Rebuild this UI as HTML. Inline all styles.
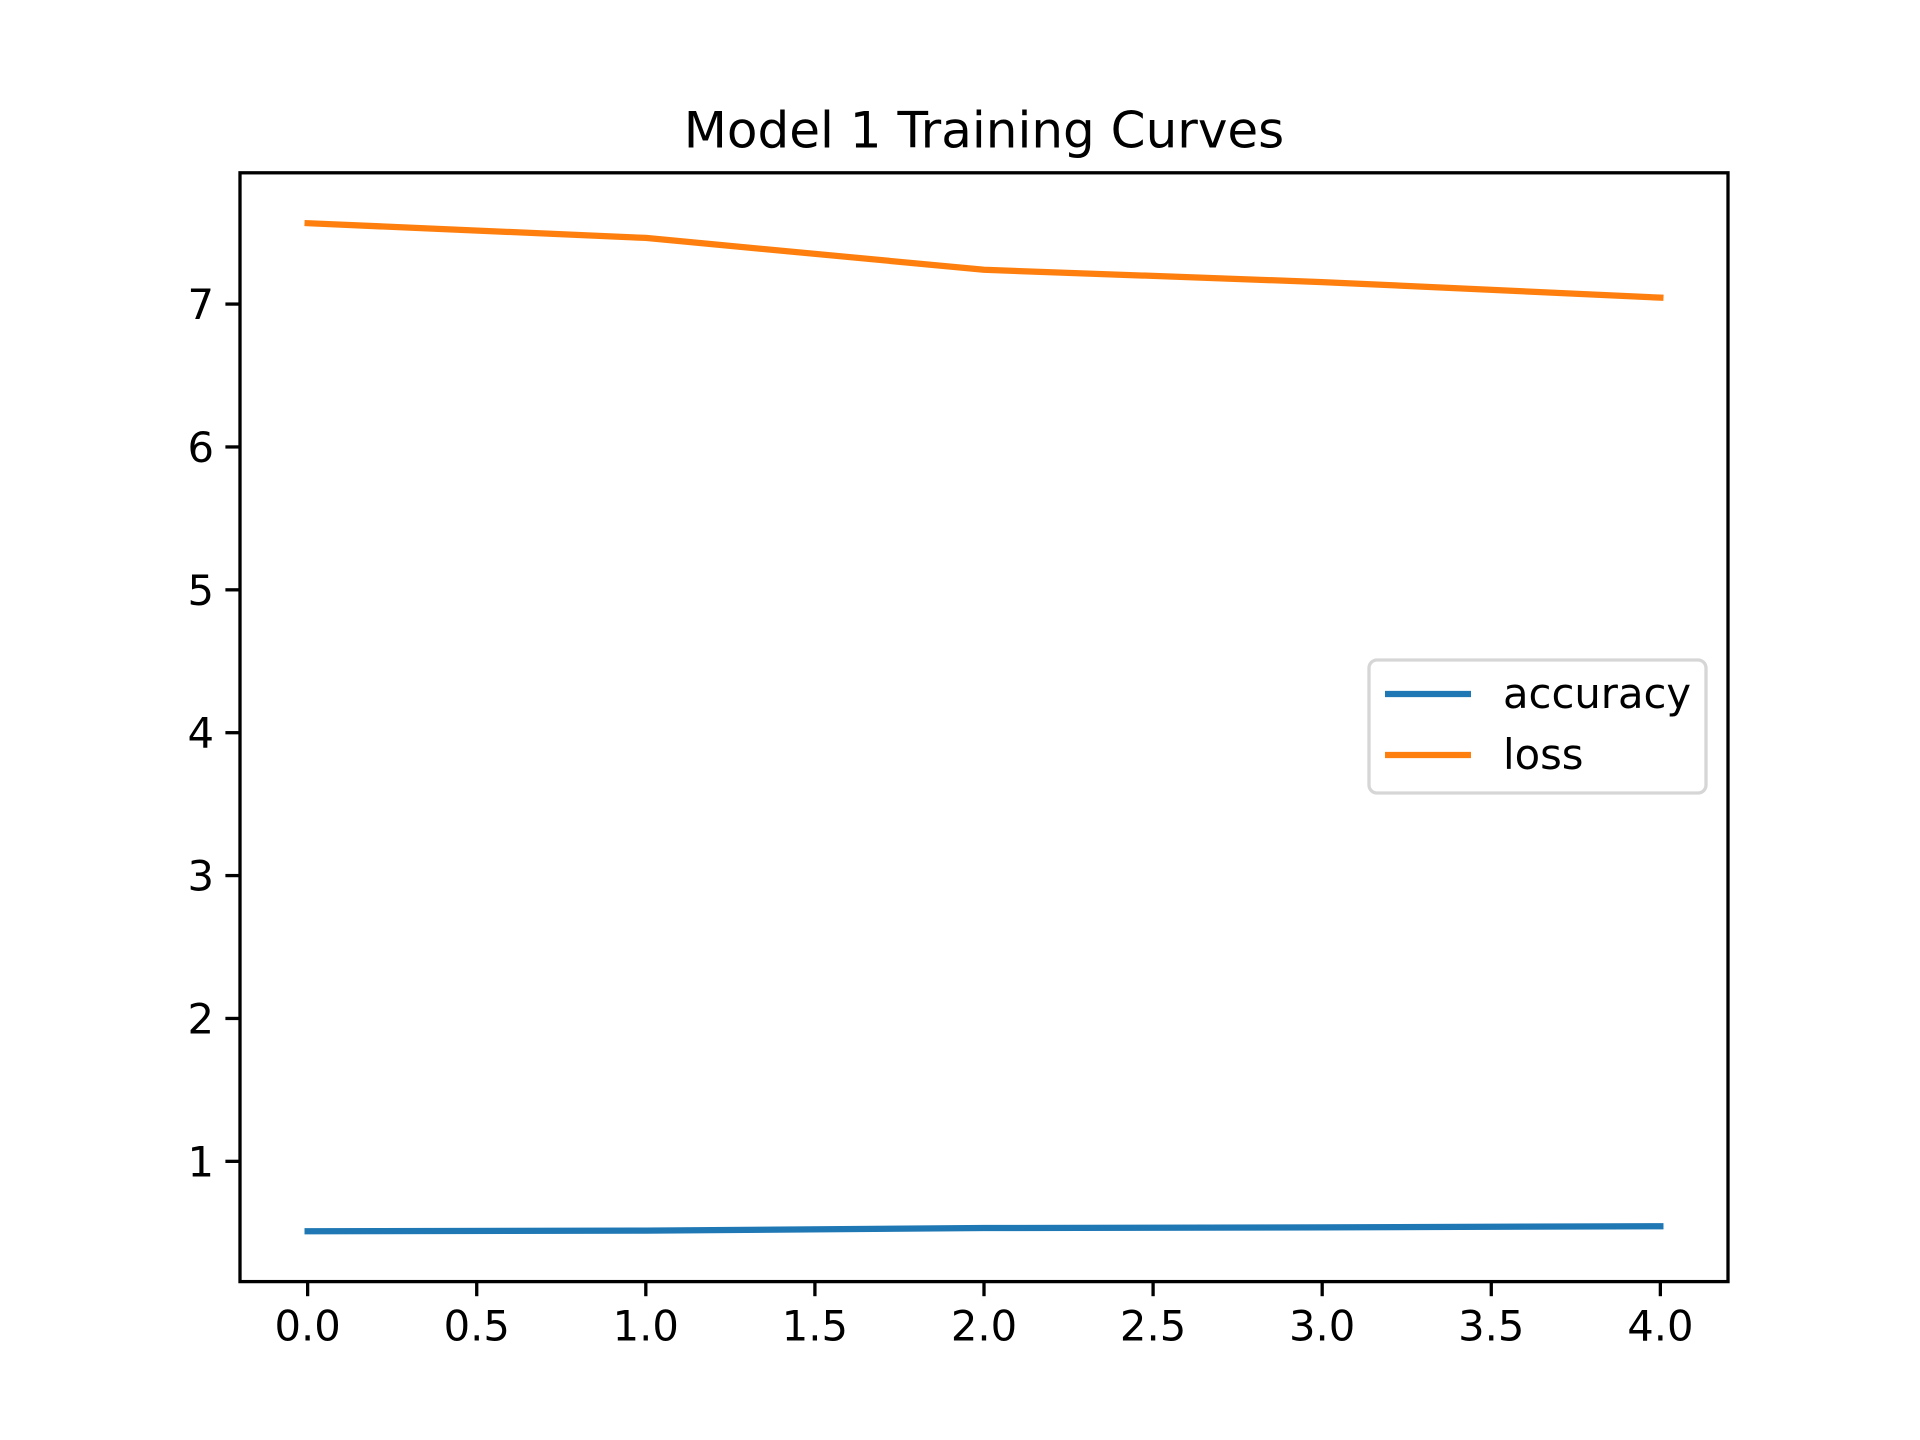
<!DOCTYPE html>
<html><head><meta charset="utf-8"><style>
html,body{margin:0;padding:0;background:#fff;}
svg{display:block;font-family:"DejaVu Sans","Liberation Sans",sans-serif;}
</style></head><body>
<svg id="chart" width="1920" height="1440" viewBox="0 0 1920 1440">
<rect width="1920" height="1440" fill="#fff"/>
<text x="984" y="147.5" font-size="50" text-anchor="middle" fill="#000">Model 1 Training Curves</text>
<g id="plot"></g>
</svg>
<script>
const epochs = [0, 1, 2, 3, 4];
const accuracy = [0.511, 0.515, 0.533, 0.538, 0.546];
const loss = [7.566, 7.463, 7.240, 7.154, 7.045];
const xTicks = [0, 0.5, 1, 1.5, 2, 2.5, 3, 3.5, 4];
const xTickLabels = ["0.0","0.5","1.0","1.5","2.0","2.5","3.0","3.5","4.0"];
const yTicks = [1, 2, 3, 4, 5, 6, 7];
const yTickLabels = ["1","2","3","4","5","6","7"];

const L=240,R=1728,T=172.8,B=1281.6;
const allY=accuracy.concat(loss);
const ymin=Math.min(...allY),ymax=Math.max(...allY),yr=ymax-ymin;
const y0=ymin-0.05*yr,y1=ymax+0.05*yr;
const xmin=Math.min(...epochs),xmax=Math.max(...epochs),xr=xmax-xmin;
const x0=xmin-0.05*xr,x1=xmax+0.05*xr;
const sx=v=>L+(v-x0)/(x1-x0)*(R-L);
const sy=v=>B-(v-y0)/(y1-y0)*(B-T);
const NS="http://www.w3.org/2000/svg";
const g=document.getElementById('plot');
function mk(tag,attrs,parent){const e=document.createElementNS(NS,tag);for(const k in attrs)e.setAttribute(k,attrs[k]);(parent||g).appendChild(e);return e;}

function series(vals,color,name){
  const p=mk('polyline',{points:epochs.map((x,i)=>sx(x)+','+sy(vals[i])).join(' '),fill:'none',stroke:color,'stroke-width':6.25,'stroke-linecap':'square','stroke-linejoin':'round'});
  
  
}
series(accuracy,'#1f77b4','accuracy-line');
series(loss,'#ff7f0e','loss-line');

xTicks.forEach((v,i)=>{
  const t=mk('line',{x1:sx(v),x2:sx(v),y1:B,y2:B+14.6,stroke:'#000','stroke-width':3.3});
  
  
  const l=mk('text',{x:sx(v),y:B+59,'font-size':41.7,'text-anchor':'middle',fill:'#000'});
  l.textContent=xTickLabels[i];
  
  
});
yTicks.forEach((v,i)=>{
  const t=mk('line',{x1:L-14.6,x2:L,y1:sy(v),y2:sy(v),stroke:'#000','stroke-width':3.3});
  
  
  const l=mk('text',{x:L-26,y:sy(v)+15,'font-size':41.7,'text-anchor':'end',fill:'#000'});
  l.textContent=yTickLabels[i];
  
  
});
const frame=mk('rect',{x:L,y:T,width:R-L,height:B-T,fill:'none',stroke:'#000','stroke-width':3.3});



const lg=mk('g',{});


mk('rect',{x:1369,y:660,width:337,height:133,rx:8,fill:'#fff','fill-opacity':0.8,stroke:'#d6d6d6','stroke-width':3.3},lg);
[['accuracy','#1f77b4',694],['loss','#ff7f0e',755]].forEach(([n,c,y])=>{
  const e=mk('g',{},lg);
  
  
  mk('line',{x1:1385,x2:1471,y1:y,y2:y,stroke:c,'stroke-width':6.25},e);
  const t=mk('text',{x:1503,y:y+14,'font-size':41.7,fill:'#000'},e);
  t.textContent=n;
});
</script>
</body></html>
